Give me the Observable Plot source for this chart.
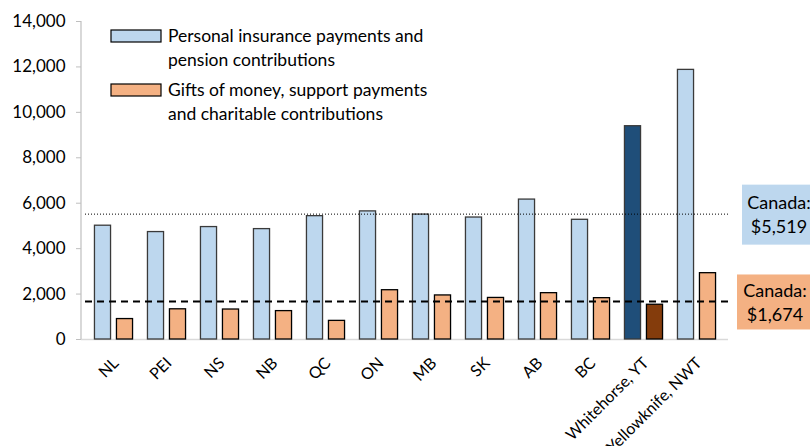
<!DOCTYPE html>
<html><head><meta charset="utf-8">
<script src="https://cdn.jsdelivr.net/npm/d3@7"></script>
<script src="https://cdn.jsdelivr.net/npm/@observablehq/plot@0.6"></script>
<style>
html,body{margin:0;padding:0;background:#fff;}
#chart svg{display:block;overflow:visible;}
</style></head><body><div id="chart"></div>
<script>
const categories = ["NL","PEI","NS","NB","QC","ON","MB","SK","AB","BC","Whitehorse, YT","Yellowknife, NWT"];
const insurance = [5010, 4730, 4950, 4860, 5430, 5640, 5500, 5370, 6160, 5270, 9390, 11870];
const gifts = [900, 1330, 1320, 1250, 820, 2170, 1940, 1830, 2040, 1820, 1530, 2920];
const highlight = "Whitehorse, YT";
const canadaInsurance = 5519;
const canadaGifts = 1674;
const canadaInsuranceLabel = ["Canada:", "$5,519"];
const canadaGiftsLabel = ["Canada:", "$1,674"];
const yTicks = [0, 2000, 4000, 6000, 8000, 10000, 12000, 14000];
const legendInsurance = ["Personal insurance payments and", "pension contributions"];
const legendGifts = ["Gifts of money, support payments", "and charitable contributions"];

const W = 810, H = 446, mL = 81, mR = 82, mT = 21, mB = 107;
const FONT = "Lato, 'Open Sans', sans-serif";
const bw = (W - mL - mR) / categories.length;
const barW = 17, gap = 5, pad = (bw - 2 * barW - gap) / 2;

const BLUE = "#BDD7EE", ORANGE = "#F4B183", DBLUE = "#1F4E79", DBROWN = "#843C0C";

const rows = categories.map((c, i) => ({cat: c, ins: insurance[i], gift: gifts[i]}));

function yPix(scales, dims, v) {
  if (scales && typeof scales.y === "function") return scales.y(v);
  return dims.marginTop + (1 - v / 14000) * (dims.height - dims.marginTop - dims.marginBottom);
}

function axisLine(index, scales, values, dims) {
  const g = d3.create("svg:g");
  g.append("line").attr("x1", dims.marginLeft).attr("x2", dims.marginLeft)
    .attr("y1", dims.marginTop).attr("y2", dims.height - dims.marginBottom)
    .attr("stroke", "#BFBFBF").attr("stroke-width", 1.2);
  return g.node();
}

function legend() {
  const g = d3.create("svg:g").attr("font-family", FONT).attr("font-size", 17.5)
    .attr("fill", "#000").attr("text-anchor", "start");
  const items = [[legendInsurance, BLUE, 30], [legendGifts, ORANGE, 84]];
  for (const [lines, color, y] of items) {
    g.append("rect").attr("x", 111).attr("y", y).attr("width", 50).attr("height", 12)
      .attr("fill", color).attr("stroke", "#000").attr("stroke-width", 1.2);
    lines.forEach((t, k) => {
      g.append("text").attr("x", 168).attr("y", y + 6 + k * 23.5).attr("dy", "0.35em")
        .attr("text-anchor", "start").text(t);
    });
  }
  return g.node();
}

function canadaBoxes(index, scales, values, dims) {
  const g = d3.create("svg:g").attr("font-family", FONT).attr("font-size", 18).attr("fill", "#000");
  const items = [
    [canadaInsurance, canadaInsuranceLabel, BLUE, 742, 60, 779],
    [canadaGifts, canadaGiftsLabel, ORANGE, 737, 55, 775]
  ];
  for (const [v, lines, color, x0, h, cx] of items) {
    const yc = yPix(scales, dims, v) + 1;
    g.append("rect").attr("x", x0).attr("y", yc - h / 2).attr("width", W - x0 + 5).attr("height", h).attr("fill", color);
    lines.forEach((t, k) => {
      g.append("text").attr("x", cx).attr("y", yc - 11.5 + k * 24).attr("dy", "0.35em")
        .attr("text-anchor", "middle").text(t);
    });
  }
  return g.node();
}

const chart = Plot.plot({
  width: W, height: H,
  marginLeft: mL, marginRight: mR, marginTop: mT, marginBottom: mB,
  style: {fontFamily: FONT, fontSize: "17px", color: "#000", background: "#fff", overflow: "visible"},
  x: {domain: categories, padding: 0, label: null},
  y: {domain: [0, 14000], label: null},
  marks: [
    Plot.ruleY([0], {stroke: "#D9D9D9", strokeWidth: 1.5}),
    axisLine,
    Plot.barY(rows, {x: "cat", y: "ins", fill: d => d.cat === highlight ? DBLUE : BLUE,
      stroke: "#3a3a3a", strokeWidth: 1.3, insetLeft: pad, insetRight: bw - pad - barW}),
    Plot.barY(rows, {x: "cat", y: "gift", fill: d => d.cat === highlight ? DBROWN : ORANGE,
      stroke: "#000", strokeWidth: 1.3, insetLeft: pad + barW + gap, insetRight: pad}),
    Plot.ruleY([canadaInsurance], {stroke: "#000", strokeWidth: 1, strokeDasharray: "1,2", insetLeft: 4}),
    Plot.ruleY([canadaGifts], {stroke: "#000", strokeWidth: 2, strokeDasharray: "7,5", insetLeft: 4}),
    Plot.axisY({ticks: yTicks, tickFormat: d3.format(","), tickSize: 5, tickPadding: 11,
      stroke: "#BFBFBF", fill: "#000", fontSize: 17, label: null}),
    Plot.axisX({tickRotate: -45, tickSize: 0, tickPadding: 21, dx: 2, fill: "#000", fontSize: 16, label: null}),
    legend,
    canadaBoxes
  ]
});
document.getElementById("chart").appendChild(chart);
</script></body></html>
